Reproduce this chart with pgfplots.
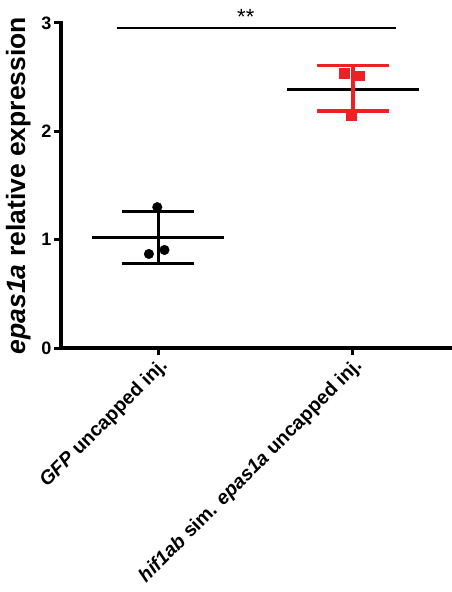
\documentclass[border=0pt]{standalone}
\usepackage{pgfplots}
\pgfplotsset{compat=1.18}
\usepackage{fontspec}
\setmainfont{Liberation Sans}
\definecolor{hifred}{RGB}{237,32,36}
\begin{document}
\begin{tikzpicture}
\begin{axis}[
  at={(61pt,244pt)}, anchor=south west,
  scale only axis, width=389pt, height=325pt,
  xmin=0.5, xmax=2.5, ymin=0, ymax=3,
  axis x line*=bottom, axis y line*=left,
  axis line style={line width=3.5pt, line cap=rect},
  xtick={1,2}, ytick={0,1,2,3},
  xticklabels={\textit{GFP} uncapped inj., \textit{hif1ab} sim. \textit{epas1a} uncapped inj.},
  tick style={line width=3pt, black},
  major tick length=7pt,
  tick align=outside,
  /pgf/number format/assume math mode=true,
  yticklabel style={font=\fontsize{18}{20}\selectfont\bfseries, xshift=1pt},
  xticklabel style={font=\fontsize{19.5}{22}\selectfont\bfseries, rotate=45, anchor=north east, inner sep=1pt},
  ylabel={\textit{epas1a} relative expression},
  ylabel style={font=\fontsize{26.5}{30}\selectfont\bfseries, yshift=4pt},
  clip=false,
]
% group means
\addplot[black, line width=3pt] coordinates {(0.66,1.016) (1.34,1.016)};
\addplot[black, line width=3pt] coordinates {(1.66,2.39) (2.34,2.39)};
% SD error bars (the cap mark is turned to lie across the bar)
\addplot[draw=none, mark=none, black,
  error bars/.cd, y dir=both, y explicit,
  error bar style={line width=3.5pt, black},
  error mark=|, error mark options={line width=3.5pt, mark size=36pt, black}]
  coordinates {(1,1.02) +- (0,0.238)};
\addplot[draw=none, mark=none, hifred,
  error bars/.cd, y dir=both, y explicit,
  error bar style={line width=3.5pt, hifred},
  error mark=|, error mark options={line width=3.5pt, mark size=36pt, hifred}]
  coordinates {(2,2.398) +- (0,0.21)};
% replicates
\addplot[only marks, mark=*, mark size=4.8pt, black] coordinates {(0.995,1.30) (0.952,0.868) (1.032,0.905)};
\addplot[only marks, mark=square*, mark size=4.8pt, hifred, mark options={draw=hifred}] coordinates {(1.955,2.536) (2.035,2.514) (1.992,2.145)};
% significance bracket
\addplot[black, line width=2pt] coordinates {(0.786,2.957) (2.22,2.957)};
\node[font=\fontsize{22}{24}\selectfont] at (axis cs:1.45,3.06) {**};
\end{axis}
\pgfresetboundingbox
\useasboundingbox (0,0) rectangle (451pt,592pt);
\end{tikzpicture}
\end{document}
